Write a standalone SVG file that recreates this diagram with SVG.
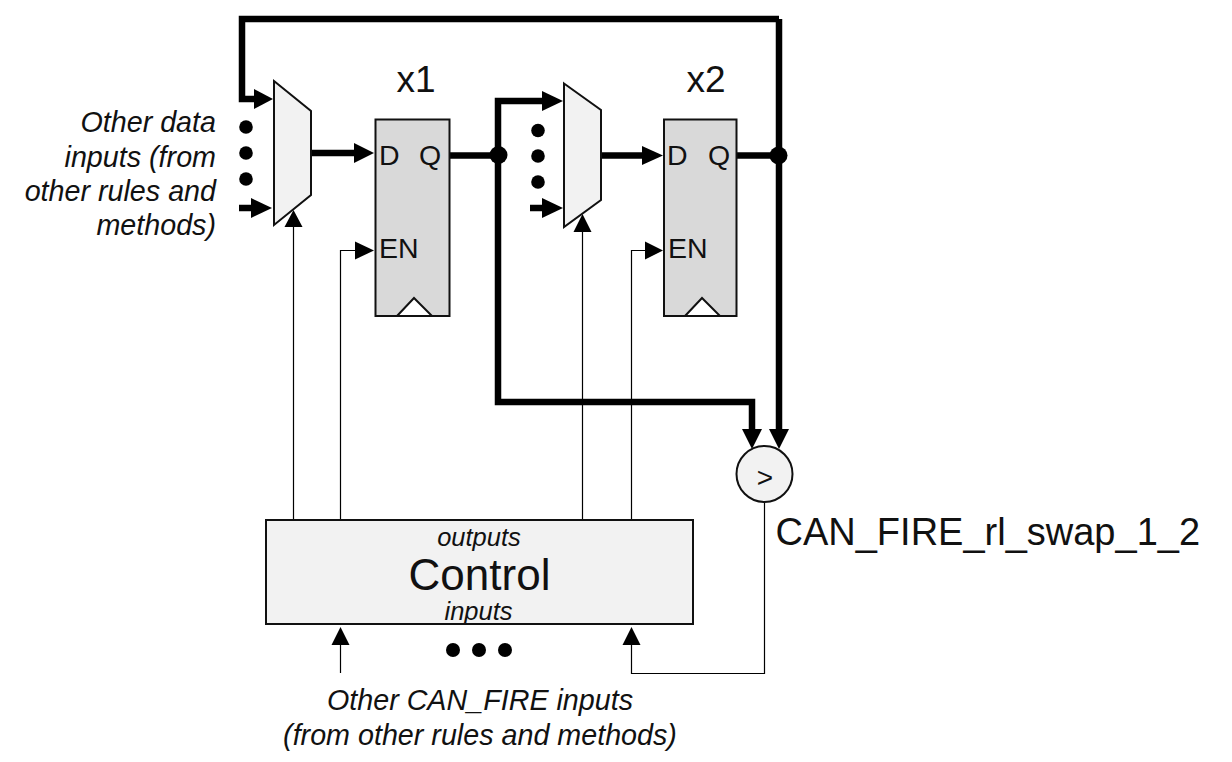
<svg xmlns="http://www.w3.org/2000/svg" width="1232" height="762" viewBox="0 0 1232 762">
<style>
text{font-family:"Liberation Sans",Arial,sans-serif;fill:#111}
.thick{fill:none;stroke:#000;stroke-width:6.5;stroke-linejoin:miter}
.thin{fill:none;stroke:#000;stroke-width:1.2}
.mux{fill:#f2f2f2;stroke:#111;stroke-width:2}
.ff{fill:#d9d9d9;stroke:#111;stroke-width:2}
.clk{fill:#fff;stroke:#111;stroke-width:2}
.it{font-style:italic;font-size:28.700px}
.sm{font-style:italic;font-size:25.500px}
.pin{font-size:28.500px}
.title{font-size:37px}
</style>
<g id="connectors">
<path class="thick" d="M779 19H242V99H256"/>
<path d="M254 89L273 99L254 109Z"/>
<path class="thick" d="M239 208H254"/>
<path d="M251 198L272 208L251 218Z"/>
<path class="thick" d="M311 153H357"/>
<path d="M354 143L374 153L354 163Z"/>
<path class="thick" d="M449 155.500H498"/>
<path class="thick" d="M545 101H498V402H752V432"/>
<path d="M542 91L563 101L542 111Z"/>
<path d="M742 429L752 449L762 429Z"/>
<circle cx="498.500" cy="155" r="9"/>
<path class="thick" d="M599 155.500H645"/>
<path d="M642 146L663 155.500L642 165Z"/>
<path class="thick" d="M530 208H545"/>
<path d="M542 198L563 208L542 218Z"/>
<path class="thick" d="M737 155.500H779"/>
<path class="thick" d="M779 19V432"/>
<path d="M769 429L779 449L789 429Z"/>
<circle cx="778.500" cy="155.500" r="9"/>
<path class="thin" d="M293.500 520V225"/>
<path d="M284.500 227L293.500 210L302.500 227Z"/>
<path class="thin" d="M340.500 520V250.500H357"/>
<path d="M355 241.500L374 250.500L355 259.500Z"/>
<path class="thin" d="M582.500 520V230"/>
<path d="M573.500 232L582.500 214L591.500 232Z"/>
<path class="thin" d="M631.500 520V250.500H647"/>
<path d="M645 241.500L663 250.500L645 259.500Z"/>
<path class="thin" d="M340.500 673V643"/>
<path d="M331.500 645L340.500 627L349.500 645Z"/>
<path class="thin" d="M764.500 502V673.500H631.500V643"/>
<path d="M622.500 645L631.500 627L640.500 645Z"/>
</g>
<g id="mux1"><path class="mux" d="M274 81L311 111V195L274 225Z"/></g>
<g id="mux2"><path class="mux" d="M564 83.500L601 110V200L564 227Z"/></g>
<g id="x1">
<rect class="ff" x="375.500" y="119.500" width="74" height="196.500"/>
<path class="clk" d="M397 316L414 298L432 316Z"/>
<text class="pin" x="379" y="165">D</text>
<text class="pin" x="419" y="165">Q</text>
<text class="pin" x="379" y="258">EN</text>
<text class="title" x="416" y="92" text-anchor="middle">x1</text>
</g>
<g id="x2">
<rect class="ff" x="664" y="119.500" width="72.500" height="196.500"/>
<path class="clk" d="M685 316L702 298L720 316Z"/>
<text class="pin" x="667" y="165">D</text>
<text class="pin" x="708" y="165">Q</text>
<text class="pin" x="668" y="258">EN</text>
<text class="title" x="706" y="92" text-anchor="middle">x2</text>
</g>
<g id="compare">
<circle cx="764.500" cy="474" r="28" fill="#f2f2f2" stroke="#111" stroke-width="2"/>
<text x="765" y="487" font-size="28" text-anchor="middle">&gt;</text>
</g>
<g id="control">
<rect x="266" y="520" width="427" height="104" fill="#f2f2f2" stroke="#111" stroke-width="2"/>
<text class="sm" x="479" y="546" text-anchor="middle">outputs</text>
<text x="479.500" y="590" font-size="44" text-anchor="middle">Control</text>
<text class="sm" x="478.500" y="619.500" text-anchor="middle">inputs</text>
</g>
<g id="dots-left" fill="#000">
<circle cx="246" cy="127" r="6.800"/><circle cx="246" cy="153" r="6.800"/><circle cx="246" cy="179" r="6.800"/>
</g>
<g id="dots-mid" fill="#000">
<circle cx="538" cy="130.500" r="6.800"/><circle cx="538" cy="156" r="6.800"/><circle cx="538" cy="182" r="6.800"/>
</g>
<g id="dots-bottom" fill="#000">
<circle cx="453" cy="650" r="7"/><circle cx="479" cy="650" r="7"/><circle cx="505" cy="650" r="7"/>
</g>
<g id="label-data">
<text class="it" x="216" y="131.500" text-anchor="end">Other data</text>
<text class="it" x="216" y="166.500" text-anchor="end">inputs (from</text>
<text class="it" x="216" y="200.500" text-anchor="end">other rules and</text>
<text class="it" x="216" y="234.500" text-anchor="end">methods)</text>
</g>
<g id="label-canfire"><text x="775.500" y="545" font-size="38">CAN_FIRE_rl_swap_1_2</text></g>
<g id="label-other">
<text class="it" x="480" y="709.500" text-anchor="middle">Other CAN_FIRE inputs</text>
<text class="it" x="480" y="744.500" text-anchor="middle">(from other rules and methods)</text>
</g>
</svg>
